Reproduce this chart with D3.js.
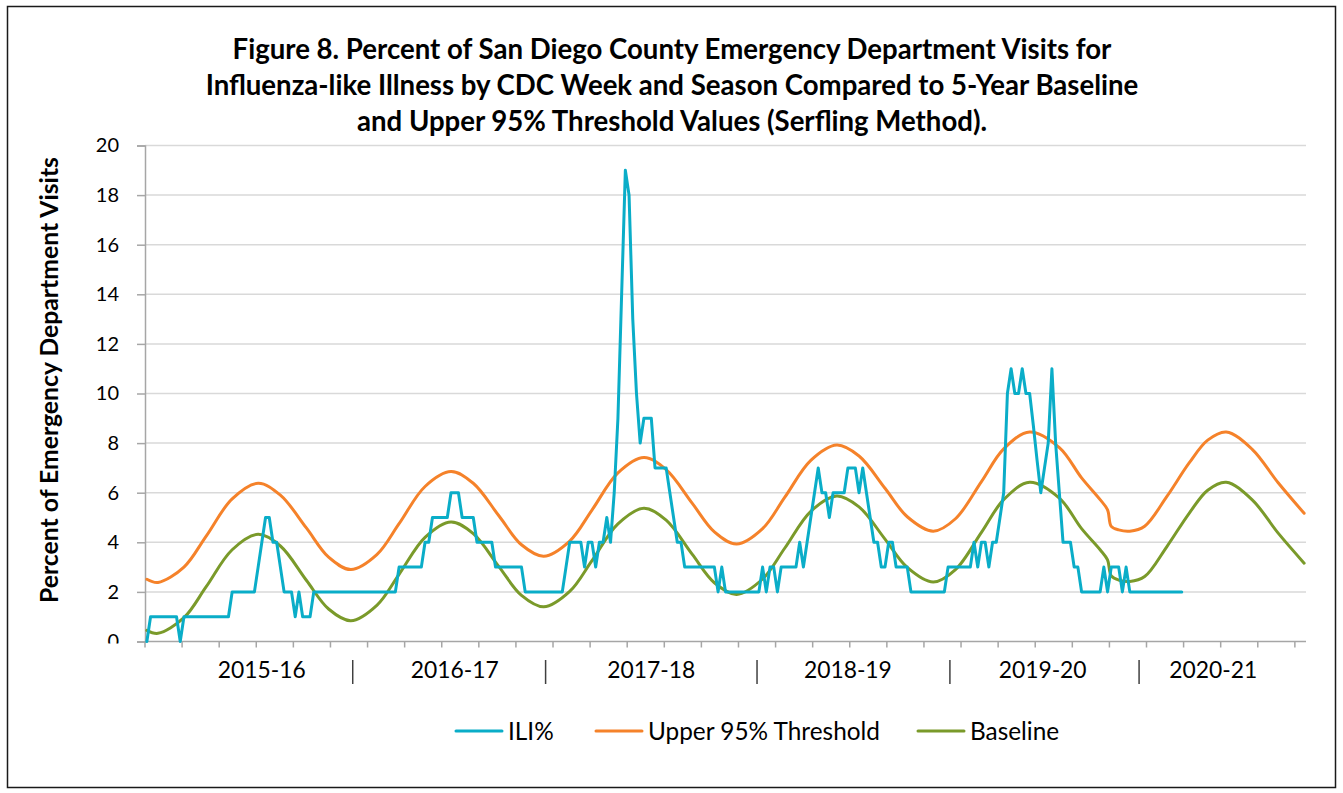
<!DOCTYPE html>
<html>
<head>
<meta charset="utf-8">
<script src="https://cdn.jsdelivr.net/npm/d3@7"></script>
<style>
  html, body { margin: 0; padding: 0; background: #ffffff; }
  svg { display: block; }
</style>
</head>
<body>
<svg id="chart" width="1343" height="793"></svg>
<script>
// ---------------- DATA ----------------
const titleLines = [
  "Figure 8. Percent of San Diego County Emergency Department Visits for",
  "Influenza-like Illness by CDC Week and Season Compared to 5-Year Baseline",
  "and Upper 95% Threshold Values (Serfling Method)."
];
const yAxisTitle = "Percent of Emergency Department Visits";
const seriesNames = ["ILI%", "Upper 95% Threshold", "Baseline"];
const seriesColors = ["#0aadc8", "#f5822a", "#7a9a2a"];

const weekCount = 313;               // number of weekly categories on the x axis
const yTicks = [0, 2, 4, 6, 8, 10, 12, 14, 16, 18, 20];

const seasonLabels = ["2015-16", "2016-17", "2017-18", "2018-19", "2019-20", "2020-21"];
const seasonLabelWeeks = [31, 83, 136, 189, 241.5, 287.5];
const seasonDividerWeeks = [56, 108, 165, 217, 268];

// ILI% by week (index = week number from start of axis)
const iliValues = [
  0,
  1, 1, 1, 1, 1, 1, 1, 1,
  0,
  1, 1, 1, 1, 1, 1, 1, 1, 1, 1, 1, 1, 1,
  2, 2, 2, 2, 2, 2, 2,
  3, 4, 5, 5, 4, 4, 3,
  2, 2, 2, 1, 2, 1, 1, 1,
  2, 2, 2, 2, 2, 2, 2, 2, 2, 2, 2, 2, 2, 2, 2, 2, 2, 2, 2, 2, 2, 2, 2,
  3, 3, 3, 3, 3, 3, 3,
  4, 4,
  5, 5, 5, 5, 5,
  6, 6, 6,
  5, 5, 5, 5,
  4, 4, 4, 4, 4,
  3, 3, 3, 3, 3, 3, 3, 3,
  2, 2, 2, 2, 2, 2, 2, 2, 2, 2, 2,
  3, 4, 4, 4, 4, 3, 4, 4, 3, 4, 4, 5, 4,
  6, 9, 14, 19, 18, 13, 10, 8, 9, 9, 9,
  7, 7, 7, 7, 6, 5, 4, 4,
  3, 3, 3, 3, 3, 3, 3, 3, 3,
  2, 3,
  2, 2, 2, 2, 2, 2, 2, 2, 2, 2,
  3, 2, 3, 3, 2,
  3, 3, 3, 3, 3,
  4, 3, 4, 5, 6, 7, 6, 6, 5,
  6, 6, 6, 6,
  7, 7, 7, 6, 7, 6, 5, 4, 4, 3, 3, 4, 4,
  3, 3, 3, 3,
  2, 2, 2, 2, 2, 2, 2, 2, 2, 2,
  3, 3, 3, 3, 3, 3, 3,
  4, 3, 4, 4, 3, 4, 4, 5, 6,
  10, 11, 10, 10, 11, 10, 10, 8.7, 7.3, 6, 7, 8, 11, 8, 6, 4, 4, 4, 3, 3,
  2, 2, 2, 2, 2, 2,
  3, 2, 3, 3, 3, 2, 3,
  2, 2, 2, 2, 2, 2, 2, 2, 2, 2, 2, 2, 2, 2, 2
];

// Baseline and threshold, read at these weeks
const curveWeeks = [0, 3, 10, 16, 23, 30, 36, 43, 49, 55, 62, 68, 75, 82, 88, 95, 101, 107,
  114, 120, 127, 134, 140, 147, 153, 159, 166, 172, 179, 186, 192, 199, 205, 212, 218, 225,
  231, 238, 246, 252, 257, 259, 260, 262, 265, 269, 275, 281, 286, 291, 298, 305, 312];
const baselineValues = [0.45, 0.33, 0.96, 2.21, 3.70, 4.32, 3.85, 2.47, 1.31, 0.84, 1.46, 2.71,
  4.20, 4.82, 4.35, 3.00, 1.86, 1.40, 2.02, 3.26, 4.74, 5.37, 4.89, 3.52, 2.37, 1.90, 2.52,
  3.77, 5.25, 5.87, 5.43, 4.13, 2.99, 2.40, 2.90, 4.40, 5.72, 6.42, 5.78, 4.55, 3.70, 3.29,
  2.65, 2.48, 2.42, 2.62, 3.83, 5.17, 6.10, 6.42, 5.71, 4.37, 3.16];
const thresholdValues = [2.51, 2.38, 3.00, 4.25, 5.75, 6.38, 5.90, 4.58, 3.40, 2.90, 3.50, 4.75,
  6.25, 6.85, 6.38, 5.05, 3.90, 3.44, 4.05, 5.30, 6.80, 7.42, 6.93, 5.58, 4.42, 3.93, 4.55,
  5.82, 7.30, 7.92, 7.48, 6.18, 5.03, 4.45, 4.95, 6.45, 7.77, 8.45, 7.82, 6.60, 5.72, 5.31,
  4.64, 4.50, 4.45, 4.65, 5.85, 7.20, 8.12, 8.45, 7.75, 6.40, 5.17];

// ---------------- LAYOUT ----------------
const FONT = "Lato, 'Open Sans', 'Liberation Sans', sans-serif";
const svg = d3.select("#chart");
const plot = { left: 145, right: 1306, top: 145.5, bottom: 641.5 };

function fitFont(sel, target, base) {
  sel.attr("font-size", base);
  const w = sel.node().getComputedTextLength();
  const fs = base * target / w;
  sel.attr("font-size", fs);
  return fs;
}

// outer frame
svg.append("rect")
  .attr("x", 7.5).attr("y", 6.5).attr("width", 1328).attr("height", 781)
  .attr("fill", "#ffffff").attr("stroke", "#1a1a1a").attr("stroke-width", 1.5);

// scales
const x = d3.scaleLinear().domain([-0.5, weekCount - 0.5]).range([plot.left, plot.right]);
const y = d3.scaleLinear().domain([0, 20]).range([plot.bottom, plot.top]);

// gridlines
svg.append("g").selectAll("line")
  .data(yTicks.filter(t => t > 0))
  .join("line")
  .attr("x1", plot.left).attr("x2", plot.right)
  .attr("y1", d => y(d)).attr("y2", d => y(d))
  .attr("stroke", "#d9d9d9").attr("stroke-width", 1.5);

// y axis
const yAxis = svg.append("g")
  .attr("transform", `translate(${plot.left},0)`)
  .call(d3.axisLeft(y).tickValues(yTicks).tickSize(8).tickPadding(18).tickFormat(d3.format("d")));
yAxis.select(".domain").attr("stroke", "#a6a6a6").attr("stroke-width", 1.5);
yAxis.selectAll(".tick line").attr("stroke", "#a6a6a6").attr("stroke-width", 1.5);
yAxis.selectAll(".tick text")
  .attr("fill", "#000").attr("font-family", FONT).attr("font-size", 20);
// the "0" label is cut off just below the axis in the original
yAxis.selectAll(".tick").filter(d => d === 0).each(function() {
  const g = d3.select(this);
  g.append("clipPath").attr("id", "zeroClip")
    .append("rect").attr("x", -60).attr("y", -20).attr("width", 60).attr("height", 21.5);
  g.select("text").attr("clip-path", "url(#zeroClip)");
});

// x axis
const xAxisG = svg.append("g");
xAxisG.append("line")
  .attr("x1", plot.left).attr("x2", plot.right)
  .attr("y1", plot.bottom).attr("y2", plot.bottom)
  .attr("stroke", "#a6a6a6").attr("stroke-width", 1.5);
xAxisG.selectAll("line.tick")
  .data(d3.range(0, weekCount, 10))
  .join("line").attr("class", "tick")
  .attr("x1", d => x(d - 0.5)).attr("x2", d => x(d - 0.5))
  .attr("y1", plot.bottom).attr("y2", plot.bottom + 6)
  .attr("stroke", "#a6a6a6").attr("stroke-width", 1.5);

// season labels
const seasonText = xAxisG.selectAll("text.season")
  .data(seasonLabels)
  .join("text").attr("class", "season")
  .attr("x", (d, i) => x(seasonLabelWeeks[i]))
  .attr("y", 678)
  .attr("text-anchor", "middle")
  .attr("font-family", FONT).attr("font-size", 22)
  .attr("fill", "#000")
  .text(d => d);
const sFs = fitFont(d3.select(seasonText.nodes()[0]), 88, 22);
seasonText.attr("font-size", sFs);

// season dividers
xAxisG.selectAll("line.div")
  .data(seasonDividerWeeks)
  .join("line").attr("class", "div")
  .attr("x1", d => x(d - 0.5)).attr("x2", d => x(d - 0.5))
  .attr("y1", 660).attr("y2", 684)
  .attr("stroke", "#404040").attr("stroke-width", 1.5);

// lines
const plotG = svg.append("g");
const iliLine = d3.line().x((d, i) => x(i)).y(d => y(d));
const smoothLine = d3.line().x(d => x(d[0])).y(d => y(d[1])).curve(d3.curveCatmullRom.alpha(0.5));

plotG.append("path")
  .datum(curveWeeks.map((w, i) => [w, thresholdValues[i]]))
  .attr("d", smoothLine)
  .attr("fill", "none").attr("stroke", seriesColors[1]).attr("stroke-width", 3)
  .attr("stroke-linejoin", "round").attr("stroke-linecap", "round");
plotG.append("path")
  .datum(curveWeeks.map((w, i) => [w, baselineValues[i]]))
  .attr("d", smoothLine)
  .attr("fill", "none").attr("stroke", seriesColors[2]).attr("stroke-width", 3)
  .attr("stroke-linejoin", "round").attr("stroke-linecap", "round");
plotG.append("path")
  .datum(iliValues)
  .attr("d", iliLine)
  .attr("fill", "none").attr("stroke", seriesColors[0]).attr("stroke-width", 3)
  .attr("stroke-linejoin", "round").attr("stroke-linecap", "round");

// title
const titleG = svg.append("g");
const titleText = titleG.selectAll("text")
  .data(titleLines)
  .join("text")
  .attr("x", 672)
  .attr("y", (d, i) => 59 + i * 36)
  .attr("text-anchor", "middle")
  .attr("font-family", FONT).attr("font-weight", "bold").attr("font-size", 24)
  .attr("fill", "#000")
  .text(d => d);
const tFs = fitFont(d3.select(titleText.nodes()[0]), 879, 24);
titleText.attr("font-size", tFs);

// y axis title
const yTitle = svg.append("text")
  .attr("transform", "translate(58,380) rotate(-90)")
  .attr("text-anchor", "middle")
  .attr("font-family", FONT).attr("font-weight", "bold").attr("font-size", 20)
  .attr("fill", "#000")
  .text(yAxisTitle);
fitFont(yTitle, 446, 20);

// legend
const legendX = [456, 596, 918];
const legG = svg.append("g");
const leg = legG.selectAll("g").data(seriesNames).join("g")
  .attr("transform", (d, i) => `translate(${legendX[i]},731)`);
leg.append("line")
  .attr("x1", 0).attr("x2", 46).attr("y1", 0).attr("y2", 0)
  .attr("stroke", (d, i) => seriesColors[i]).attr("stroke-width", 3).attr("stroke-linecap", "round");
const legText = leg.append("text")
  .attr("x", 52).attr("y", 0).attr("dy", "0.35em")
  .attr("font-family", FONT).attr("font-size", 22).attr("fill", "#000")
  .text(d => d);
const lFs = fitFont(d3.select(legText.nodes()[1]), 232, 22);
legText.attr("font-size", lFs);
</script>
</body>
</html>
